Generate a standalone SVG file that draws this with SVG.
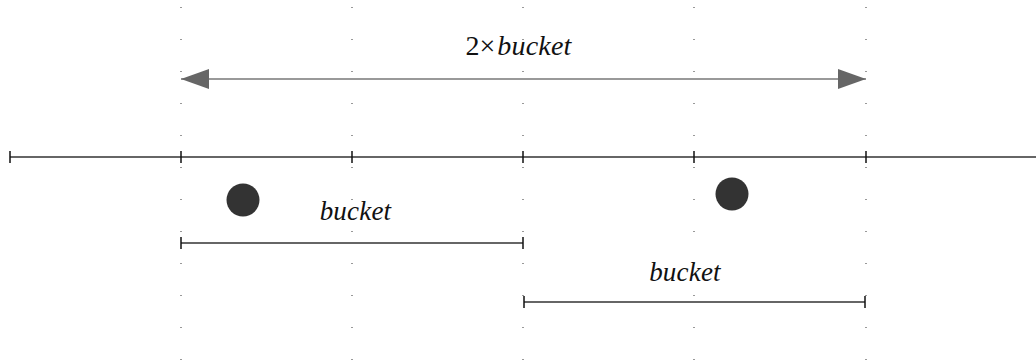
<svg xmlns="http://www.w3.org/2000/svg" width="1036" height="360" viewBox="0 0 1036 360">
<style>
.grid{stroke:#000;stroke-width:1;stroke-dasharray:1 31;fill:none;opacity:0.8}
.axis{stroke:#333;stroke-width:1.3;fill:none}
.tick{stroke:#111;stroke-width:1.5}
.arrow{stroke:#999;stroke-width:2;fill:none}
.dot{fill:#333}
.lbl{font-family:'Liberation Serif','DejaVu Serif',serif;font-size:27px;fill:#111;text-anchor:middle}
.it{font-style:italic;letter-spacing:0.2px}
</style>
<defs>
<marker id="ah" viewBox="0 0 28 20" refX="28" refY="10" markerWidth="28" markerHeight="20" markerUnits="userSpaceOnUse" orient="auto-start-reverse">
<path d="M0,0 L28,10 L0,20 Z" fill="#666"/>
</marker>
</defs>
<g id="grid">
<line class="grid" x1="181" y1="7" x2="181" y2="360"/>
<line class="grid" x1="352" y1="7" x2="352" y2="360"/>
<line class="grid" x1="523" y1="7" x2="523" y2="360"/>
<line class="grid" x1="694" y1="7" x2="694" y2="360"/>
<line class="grid" x1="866" y1="7" x2="866" y2="360"/>
</g>
<g id="axis">
<line class="axis" x1="10" y1="157" x2="1036" y2="157"/>
<line class="tick" x1="10" y1="151" x2="10" y2="163"/>
<line class="tick" x1="181" y1="151" x2="181" y2="163"/>
<line class="tick" x1="352" y1="151" x2="352" y2="163"/>
<line class="tick" x1="523" y1="151" x2="523" y2="163"/>
<line class="tick" x1="694" y1="151" x2="694" y2="163"/>
<line class="tick" x1="866" y1="151" x2="866" y2="163"/>
</g>
<g id="connectors">
<line class="arrow" x1="181" y1="79" x2="866" y2="79" marker-start="url(#ah)" marker-end="url(#ah)"/>
</g>
<g id="label-2bucket">
<text class="lbl" x="518.5" y="55" style="font-size:28px">2×<tspan class="it" dx="2">bucket</tspan></text>
</g>
<g id="point1"><circle class="dot" cx="243" cy="200" r="16.5"/></g>
<g id="point2"><circle class="dot" cx="732" cy="194" r="16.5"/></g>
<g id="bucket1">
<text class="lbl it" x="355.5" y="220">bucket</text>
<line class="axis" x1="181" y1="243" x2="523" y2="243"/>
<line class="tick" x1="181" y1="237" x2="181" y2="249"/>
<line class="tick" x1="523" y1="237" x2="523" y2="249"/>
</g>
<g id="bucket2">
<text class="lbl it" x="685" y="281">bucket</text>
<line class="axis" x1="524" y1="302" x2="865" y2="302"/>
<line class="tick" x1="524" y1="296" x2="524" y2="308"/>
<line class="tick" x1="865" y1="296" x2="865" y2="308"/>
</g>
</svg>
